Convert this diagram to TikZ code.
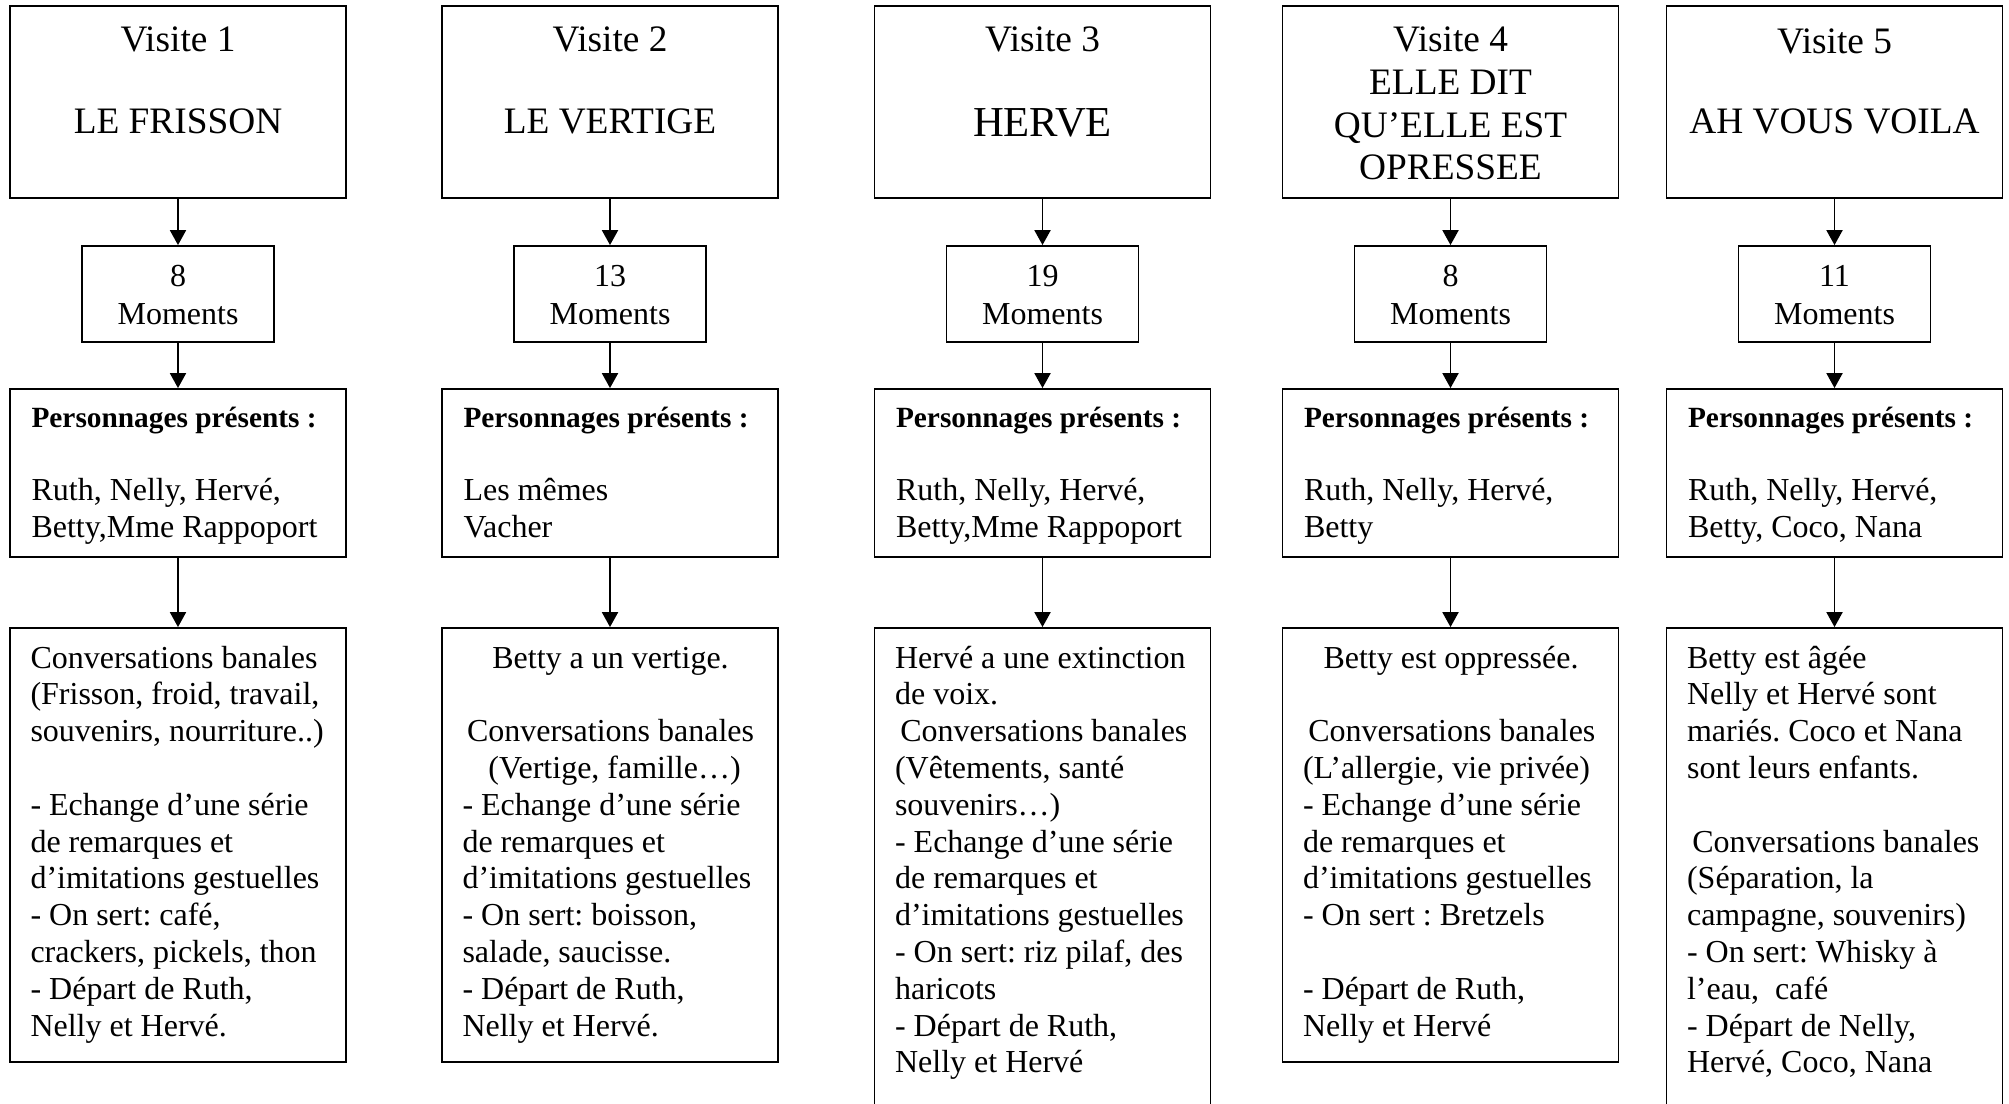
\documentclass[tikz,border=0pt]{standalone}
\usepackage{fontspec}
\setmainfont{Liberation Serif}
\usetikzlibrary{arrows.meta}
\frenchspacing
\newcommand\Ll[1]{\hbox to\hsize{#1\hss}}
\newcommand\Lc[1]{\hbox to\hsize{\hss#1\hss}}
\newcommand\Block[1]{\parbox[t]{111pt}{\fontsize{12pt}{13.8pt}\selectfont\frenchspacing #1}}
\newcommand\Pers{\fontsize{11pt}{13.8pt}\selectfont\bfseries Personnages présents :}
\begin{document}
\begin{tikzpicture}[x=0.375pt,y=-0.375pt,
  box/.style={draw, line width=0.7pt, inner sep=0pt},
  hbox/.style={box, minimum width=126pt, minimum height=72pt},
  mbox/.style={box, minimum width=72pt, minimum height=36pt},
  pbox/.style={box, minimum width=126pt, minimum height=63pt},
  cbox/.style={box, minimum width=126pt, minimum height=162.75pt},
  cboxlong/.style={box, minimum width=126pt, minimum height=195.75pt},
  arr/.style={line width=0.7pt, -{Triangle[length=5.6pt,width=6pt]}},
  headfont/.style={font=\fontsize{14pt}{16.1pt}\selectfont, inner sep=0pt, anchor=base},
  titlefont/.style={font=\fontsize{16pt}{18.4pt}\selectfont, inner sep=0pt, anchor=base},
  txt/.style={font=\fontsize{12pt}{13.8pt}\selectfont, inner sep=0pt, anchor=base west},
  ctr/.style={font=\fontsize{12pt}{13.8pt}\selectfont, inner sep=0pt, anchor=base},
]
\useasboundingbox (0,0) rectangle (2009,1103);
\clip (0,0) rectangle (2009,1103);

% ---------------- boxes ----------------
\node[hbox] (h1) at (178,102) {};
\node[hbox] (h2) at (610,102) {};
\node[hbox] (h3) at (1042.5,102) {};
\node[hbox] (h4) at (1450.5,102) {};
\node[hbox] (h5) at (1834.5,102) {};

\node[mbox] (m1) at (178,294) {};
\node[mbox] (m2) at (610,294) {};
\node[mbox] (m3) at (1042.5,294) {};
\node[mbox] (m4) at (1450.5,294) {};
\node[mbox] (m5) at (1834.5,294) {};

\node[pbox] (p1) at (178,473) {};
\node[pbox] (p2) at (610,473) {};
\node[pbox] (p3) at (1042.5,473) {};
\node[pbox] (p4) at (1450.5,473) {};
\node[pbox] (p5) at (1834.5,473) {};

\node[cbox] (c1) at (178,845) {};
\node[cbox] (c2) at (610,845) {};
\node[cboxlong] (c3) at (1042.5,889) {};
\node[cbox] (c4) at (1450.5,845) {};
\node[cboxlong] (c5) at (1834.5,889) {};

% ---------------- arrows ----------------
\foreach \i in {1,...,5}{
  \draw[arr] (h\i.south) -- (m\i.north);
  \draw[arr] (m\i.south) -- (p\i.north);
  \draw[arr] (p\i.south) -- (c\i.north);
}

% ---------------- header texts ----------------
\node[headfont] (v1) at (178,51) {Visite 1};
\node[headfont] (t1) at (178,133) {LE FRISSON};
\node[headfont] (v2) at (610,51) {Visite 2};
\node[headfont] (t2) at (610,133) {LE VERTIGE};
\node[headfont] (v3) at (1042.5,51) {Visite 3};
\node[titlefont] (t3) at (1042.5,136) {HERVE};
\node[headfont] (v4) at (1450.5,52) {Visite 4};
\node[headfont] (t4a) at (1450.5,94) {ELLE DIT};
\node[headfont] (t4b) at (1450.5,137) {QU’ELLE EST};
\node[headfont] (t4c) at (1450.5,179) {OPRESSEE};
\node[headfont] (v5) at (1834.5,53) {Visite 5};
\node[headfont] (t5) at (1834.5,133) {AH VOUS VOILA};

% ---------------- moments ----------------
\node[ctr] (n1) at (178,286) {8};
\node[ctr] (k1) at (178,324) {Moments};
\node[ctr] (n2) at (610,286) {13};
\node[ctr] (k2) at (610,324) {Moments};
\node[ctr] (n3) at (1042.5,286) {19};
\node[ctr] (k3) at (1042.5,324) {Moments};
\node[ctr] (n4) at (1450.5,286) {8};
\node[ctr] (k4) at (1450.5,324) {Moments};
\node[ctr] (n5) at (1834.5,286) {11};
\node[ctr] (k5) at (1834.5,324) {Moments};

% ---------------- personnages ----------------
\node[txt] (pt1) at (31,427) {\Block{\Ll{\Pers}\Ll{}\Ll{Ruth, Nelly, Hervé,}\Ll{Betty,Mme Rappoport}}};
\node[txt] (pt2) at (463,427) {\Block{\Ll{\Pers}\Ll{}\Ll{Les mêmes}\Ll{Vacher}}};
\node[txt] (pt3) at (895.5,427) {\Block{\Ll{\Pers}\Ll{}\Ll{Ruth, Nelly, Hervé,}\Ll{Betty,Mme Rappoport}}};
\node[txt] (pt4) at (1303.5,427) {\Block{\Ll{\Pers}\Ll{}\Ll{Ruth, Nelly, Hervé,}\Ll{Betty}}};
\node[txt] (pt5) at (1687.5,427) {\Block{\Ll{\Pers}\Ll{}\Ll{Ruth, Nelly, Hervé,}\Ll{Betty, Coco, Nana}}};

% ---------------- contents ----------------
\node[txt] (ct1) at (30,668) {\Block{%
\Ll{Conversations banales}%
\Ll{(Frisson, froid, travail,}%
\Ll{souvenirs, nourriture..)}%
\Ll{}%
\Ll{- Echange d’une série}%
\Ll{de remarques et}%
\Ll{d’imitations gestuelles}%
\Ll{- On sert: café,}%
\Ll{crackers, pickels, thon}%
\Ll{- Départ de Ruth,}%
\Ll{Nelly et Hervé.}}};

\node[txt] (ct2) at (462,668) {\Block{%
\Lc{Betty a un vertige.}%
\Ll{}%
\Lc{Conversations banales}%
\Lc{\kern3pt(Vertige, famille…)}%
\Ll{- Echange d’une série}%
\Ll{de remarques et}%
\Ll{d’imitations gestuelles}%
\Ll{- On sert: boisson,}%
\Ll{salade, saucisse.}%
\Ll{- Départ de Ruth,}%
\Ll{Nelly et Hervé.}}};

\node[txt] (ct3) at (894.5,668) {\Block{%
\Ll{Hervé a une extinction}%
\Ll{de voix.}%
\Ll{\kern2pt Conversations banales}%
\Ll{(Vêtements, santé}%
\Ll{souvenirs…)}%
\Ll{- Echange d’une série}%
\Ll{de remarques et}%
\Ll{d’imitations gestuelles}%
\Ll{- On sert: riz pilaf, des}%
\Ll{haricots}%
\Ll{- Départ de Ruth,}%
\Ll{Nelly et Hervé}}};

\node[txt] (ct4) at (1302.5,668) {\Block{%
\Lc{Betty est oppressée.}%
\Ll{}%
\Ll{\kern2pt Conversations banales}%
\Ll{(L’allergie, vie privée)}%
\Ll{- Echange d’une série}%
\Ll{de remarques et}%
\Ll{d’imitations gestuelles}%
\Ll{- On sert : Bretzels}%
\Ll{}%
\Ll{- Départ de Ruth,}%
\Ll{Nelly et Hervé}}};

\node[txt] (ct5) at (1686.5,668) {\Block{%
\Ll{Betty est âgée}%
\Ll{Nelly et Hervé sont}%
\Ll{mariés. Coco et Nana}%
\Ll{sont leurs enfants.}%
\Ll{}%
\Ll{\kern2pt Conversations banales}%
\Ll{(Séparation, la}%
\Ll{campagne, souvenirs)}%
\Ll{- On sert: Whisky à}%
\Ll{l’eau,\ \ café}%
\Ll{- Départ de Nelly,}%
\Ll{Hervé, Coco, Nana}}};
\end{tikzpicture}
\end{document}
